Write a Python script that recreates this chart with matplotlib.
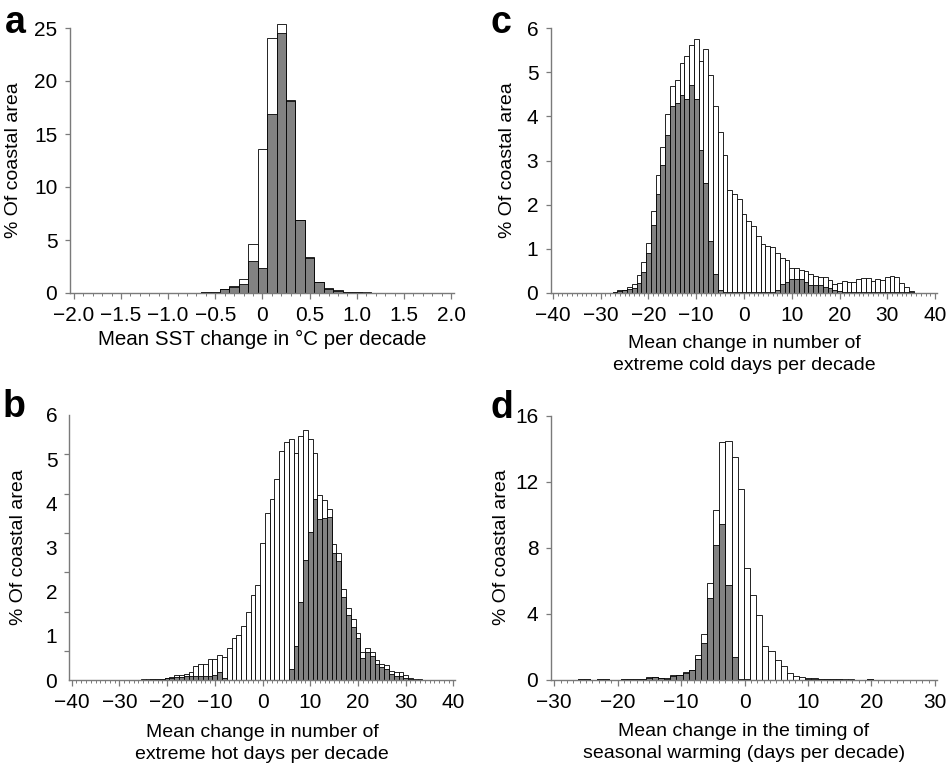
import numpy as np
import matplotlib
matplotlib.use('Agg')
import matplotlib.pyplot as plt
from matplotlib.ticker import MultipleLocator, FixedLocator, FuncFormatter

plt.rcParams['font.family'] = ['Liberation Sans', 'DejaVu Sans']
plt.rcParams['font.size'] = 14

# a: mean SST change (degC per decade), bins of 0.1
sst_bins = np.round(np.arange(-0.7, 1.55, 0.1), 1)
sst_all = [0.02, 0.05, 0.10, 0.38, 0.63, 1.35, 4.62, 13.6, 24.05, 25.4, 18.2,
           6.9, 3.36, 1.07, 0.44, 0.25, 0.12, 0.08, 0.05, 0.04, 0.03, 0.02, 0.01]
sst_sig = [0.02, 0.05, 0.10, 0.35, 0.58, 0.85, 3.02, 2.36, 16.9, 24.5, 18.1,
           6.85, 3.33, 1.05, 0.42, 0.22, 0.10, 0.07, 0.04, 0.03, 0.02, 0.02, 0.01]

# b: extreme hot days per decade
hot_bins = np.arange(-25, 34)
hot_all = [0.02, 0.02, 0.02, 0.02, 0.03, 0.05, 0.06, 0.11, 0.12, 0.14,
           0.17, 0.32, 0.37, 0.37, 0.47, 0.48, 0.57, 0.52, 0.72, 0.95,
           1.03, 1.23, 1.55, 1.92, 2.14, 3.11, 3.77, 4.10, 4.54, 5.18,
           5.40, 5.46, 5.15, 5.52, 5.65, 5.45, 5.15, 4.19, 4.08, 3.88,
           3.08, 2.87, 2.06, 1.62, 1.37, 1.06, 0.63, 0.73, 0.64, 0.45,
           0.37, 0.34, 0.21, 0.19, 0.19, 0.11, 0.04, 0.02, 0.02]
hot_sig = [0.01, 0.01, 0.02, 0.02, 0.03, 0.04, 0.05, 0.07, 0.07, 0.08,
           0.10, 0.10, 0.10, 0.10, 0.10, 0.12, 0.18, 0.04, 0.01, 0.01,
           0.01, 0.01, 0.01, 0.01, 0.01, 0.01, 0.01, 0.01, 0.01, 0.01,
           0.01, 0.26, 0.77, 1.77, 2.72, 3.34, 4.09, 3.65, 3.66, 3.68,
           2.87, 2.69, 1.89, 1.47, 1.21, 0.94, 0.49, 0.64, 0.54, 0.36,
           0.30, 0.24, 0.14, 0.08, 0.09, 0.05, 0.02, 0.01, 0.01]

# c: extreme cold days per decade
cold_bins = np.arange(-27, 36)
cold_all = [0.02, 0.05, 0.06, 0.14, 0.19, 0.40, 0.69, 1.13, 1.85, 2.67,
            3.30, 4.05, 4.70, 4.83, 5.22, 5.38, 5.63, 5.75, 5.25, 5.52,
            4.94, 4.24, 3.65, 3.12, 2.34, 2.25, 2.12, 1.78, 1.62, 1.52,
            1.28, 1.11, 1.06, 1.03, 0.91, 0.78, 0.74, 0.57, 0.55, 0.51,
            0.49, 0.42, 0.38, 0.36, 0.36, 0.29, 0.20, 0.23, 0.27, 0.24,
            0.25, 0.30, 0.33, 0.33, 0.26, 0.30, 0.29, 0.36, 0.39, 0.36,
            0.21, 0.12, 0.04]
cold_sig = [0.02, 0.04, 0.05, 0.08, 0.11, 0.21, 0.46, 0.89, 1.54, 2.23,
            2.90, 3.58, 4.24, 4.30, 4.49, 4.39, 4.71, 4.40, 3.24, 2.48,
            1.17, 0.42, 0.06, 0.02, 0.01, 0.01, 0.01, 0.01, 0.01, 0.01,
            0.01, 0.01, 0.01, 0.02, 0.05, 0.20, 0.25, 0.30, 0.30, 0.30,
            0.25, 0.18, 0.17, 0.17, 0.13, 0.10, 0.05, 0.04, 0.02, 0.02,
            0.02, 0.02, 0.02, 0.02, 0.02, 0.02, 0.02, 0.02, 0.02, 0.02,
            0.01, 0.01, 0.01]

# d: timing of seasonal warming, bin centres
warm_bins = -0.58 + 0.968 * np.arange(-27, 22)
warm_all = [0.00, 0.02, 0.02, 0.00, 0.01, 0.02, 0.00, 0.00, 0.01, 0.01,
            0.03, 0.06, 0.13, 0.14, 0.10, 0.07, 0.25, 0.26, 0.43, 0.58,
            1.48, 2.73, 5.84, 10.31, 14.40, 14.46, 13.50, 11.58, 6.75, 5.12,
            3.94, 2.06, 1.70, 1.17, 0.83, 0.42, 0.24, 0.13, 0.07, 0.08,
            0.04, 0.03, 0.03, 0.03, 0.01, 0.01, 0.00, 0.00, 0.02]
warm_sig = [0.00, 0.02, 0.02, 0.00, 0.01, 0.02, 0.00, 0.00, 0.01, 0.01,
            0.02, 0.05, 0.12, 0.13, 0.09, 0.06, 0.24, 0.25, 0.42, 0.56,
            1.27, 2.24, 4.97, 8.13, 9.46, 5.74, 1.37, 0.02, 0.01, 0.00,
            0.00, 0.00, 0.00, 0.00, 0.00, 0.00, 0.00, 0.00, 0.03, 0.05,
            0.02, 0.01, 0.01, 0.01, 0.00, 0.00, 0.00, 0.00, 0.01]

W, H = 946, 767
fig = plt.figure(figsize=(W / 100, H / 100), dpi=100)
spine_col = '#7a7a7a'
gray = '#828282'


def minus(s):
    return s.replace('-', '\u2212')


fmt_int = FuncFormatter(lambda v, p: minus('%d' % round(v)))
fmt_dec = FuncFormatter(lambda v, p: '0' if abs(v) < 1e-9 else minus('%.1f' % v))


def panel(rect, bins, allv, sig, width, xlim, ylim, xmaj, xmin, yticks,
          xlabel, labelpad, ylab_x, xfmt, xlab_size=14, ymin_ticks=None):
    ax = fig.add_axes([rect[0] / W, 1 - rect[3] / H, (rect[1] - rect[0]) / W,
                       (rect[3] - rect[2]) / H])
    ax.bar(bins, allv, width=width, color='white', edgecolor='black',
           linewidth=0.6, clip_on=False, zorder=2)
    ax.bar(bins, sig, width=width, color=gray, edgecolor='black',
           linewidth=0.6, clip_on=False, zorder=3)
    ax.set_xlim(*xlim)
    ax.set_ylim(*ylim)
    for s in ['top', 'right']:
        ax.spines[s].set_visible(False)
    for s in ['left', 'bottom']:
        ax.spines[s].set_color(spine_col)
        ax.spines[s].set_linewidth(1.0)
        ax.spines[s].set_zorder(4)
    ax.xaxis.set_major_locator(MultipleLocator(xmaj))
    ax.xaxis.set_minor_locator(MultipleLocator(xmin))
    ax.xaxis.set_major_formatter(xfmt)
    ax.set_yticks(yticks)
    ax.yaxis.set_major_formatter(fmt_int)
    ax.tick_params(axis='x', which='major', length=4.5, width=0.9,
                   color=spine_col, pad=5, labelsize=15)
    ax.tick_params(axis='x', which='minor', length=2.2, width=0.7,
                   color=spine_col)
    ax.tick_params(axis='y', which='major', length=3.5, width=0.9,
                   color=spine_col, pad=5.6, labelsize=15)
    if ymin_ticks is not None:
        ax.tick_params(axis='y', which='major', length=0, pad=8.6)
        ax.yaxis.set_minor_locator(FixedLocator(ymin_ticks))
        ax.tick_params(axis='y', which='minor', length=3.5, width=0.9,
                       color=spine_col)
    ax.set_xlabel(xlabel, fontsize=xlab_size, labelpad=labelpad,
                  linespacing=1.35)
    ax.set_ylabel('% Of coastal area', fontsize=14)
    ax.yaxis.set_label_coords(ylab_x, 0.5)
    return ax


panel((70, 454, 28, 293), sst_bins, sst_all, sst_sig, 0.1, (-2.04, 2.03),
      (0, 25), 0.5, 0.1, [0, 5, 10, 15, 20, 25],
      'Mean SST change in \u00b0C per decade', 3.5, -0.125, fmt_dec,
      xlab_size=14.8)
panel((551, 937, 28.3, 292.7), cold_bins, cold_all, cold_sig, 1.0,
      (-40.4, 40.4), (0, 6), 10, 1, [0, 1, 2, 3, 4, 5, 6],
      'Mean change in number of\nextreme cold days per decade', 7.5, -0.091,
      fmt_int)
panel((69.3, 455.3, 415, 680), hot_bins, hot_all, hot_sig, 1.0,
      (-40.5, 40.4), (0, 6), 10, 1, [0, 1, 2, 3, 4, 5, 6],
      'Mean change in number of\nextreme hot days per decade', 8.5, -0.11,
      fmt_int, ymin_ticks=np.arange(6, 0.3, -0.89))
panel((551, 936.8, 415.7, 679.5), warm_bins, warm_all, warm_sig, 0.968,
      (-30.5, 30.3), (0, 16), 10, 1, [0, 4, 8, 12, 16],
      'Mean change in the timing of\nseasonal warming (days per decade)', 8.5,
      -0.106, fmt_int)

for lab, x, y in [('a', 5, 33), ('c', 490, 33), ('b', 3, 417), ('d', 490, 418)]:
    fig.text(x / W, 1 - y / H, lab, fontsize=27, fontweight='bold',
             va='baseline', ha='left')

fig.savefig('out.png', dpi=100)
